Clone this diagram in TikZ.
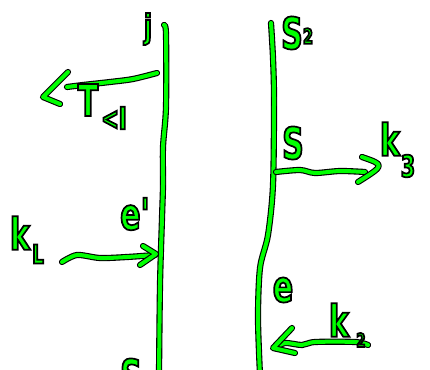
\documentclass[tikz,border=0pt]{standalone}
\usepackage{fontspec}
\setmainfont{DejaVu Sans}
\newfontfamily\handfont[FakeStretch=0.68]{DejaVu Sans Bold}
\definecolor{pengreen}{RGB}{0,255,0}
\usetikzlibrary{positioning}

% green glyphs with a black rim
\newcommand{\hand}[1]{\special{pdf:literal direct 0 0 0 RG 1.7 w 2 Tr}#1\special{pdf:literal direct 0 Tr}}

\begin{document}
\begin{tikzpicture}[x=1pt,y=-1pt,
    stroke/.style={draw=black,line width=1.1pt,double=pengreen,double distance=4pt,
                   line cap=round,line join=round},
    lbl/.style={text=pengreen,inner sep=0pt,font=\handfont\fontsize{44}{44}\selectfont},
    sub/.style={text=pengreen,inner sep=0pt,font=\handfont\fontsize{26}{26}\selectfont}]

  \useasboundingbox (0,0) rectangle (430,369);

  %% World lines
  \draw[stroke] plot[smooth] coordinates {(164,25) (166,34) (166,107) (163,147)
      (163,185) (162,218) (160,285) (159,375)};
  \draw[stroke] plot[smooth] coordinates {(271,23) (273,58) (274,100) (273,185)
      (268,235) (260,268) (258,318) (260,375)};

  %% Arrow T (to the left)
  \draw[stroke] plot[smooth] coordinates {(157,73) (133,79) (110,82) (83,85) (67,87)};
  \draw[stroke] (68,72) -- (43,97) -- (60,104);

  %% Arrow k_L (to the right)
  \draw[stroke] plot[smooth] coordinates {(62,262) (77,255) (100,258) (127,257) (155,255)};
  \draw[stroke] (143,246) -- (156,254) -- (140,265);

  %% Arrow k_3 (to the right)
  \draw[stroke] plot[smooth] coordinates {(276,172) (300,170) (315,173) (340,171) (365,172)};
  \draw[stroke] (362,157) .. controls (385,165) .. (358,182);

  %% Arrow k_2 (to the left)
  \draw[stroke] plot[smooth] coordinates {(368,345) (355,342) (315,342) (302,345)
      (285,343) (275,348)};
  \draw[stroke] (292,328) -- (273,348) -- (295,353);

  %% Labels
  \node[lbl,font=\handfont\fontsize{33}{33}\selectfont] (j) at (148,29) {\hand{j}};
  \node[lbl] (T)   at (88,100)  {\hand{T}};
  \node[sub,font=\handfont\fontsize{31}{31}\selectfont] (TI) at (114,118) {\hand{<I}};
  \node[lbl] (kL)  at (20,233)  {\hand{k}};
  \node[sub] (kLs) at (38,254)  {\hand{L}};
  \node[lbl] (ep)  at (135,214) {\hand{e'}};
  \node[lbl] (S1)  at (131,375) {\hand{S}};
  \node[lbl] (S2)  at (292,33)  {\hand{S}};
  \node[sub,font=\handfont\fontsize{21}{21}\selectfont] (S2s) at (308,36) {\hand{2}};
  \node[lbl] (S)   at (293,143) {\hand{S}};
  \node[lbl] (k3)  at (390,139) {\hand{k}};
  \node[sub,font=\handfont\fontsize{30}{30}\selectfont] (k3s) at (408,166) {\hand{3}};
  \node[lbl] (e)   at (283,290) {\hand{e}};
  \node[lbl] (k2)  at (339,320) {\hand{k}};
  \node[sub,font=\handfont\fontsize{19}{19}\selectfont] (k2s) at (361,340) {\hand{2}};
\end{tikzpicture}
\end{document}
